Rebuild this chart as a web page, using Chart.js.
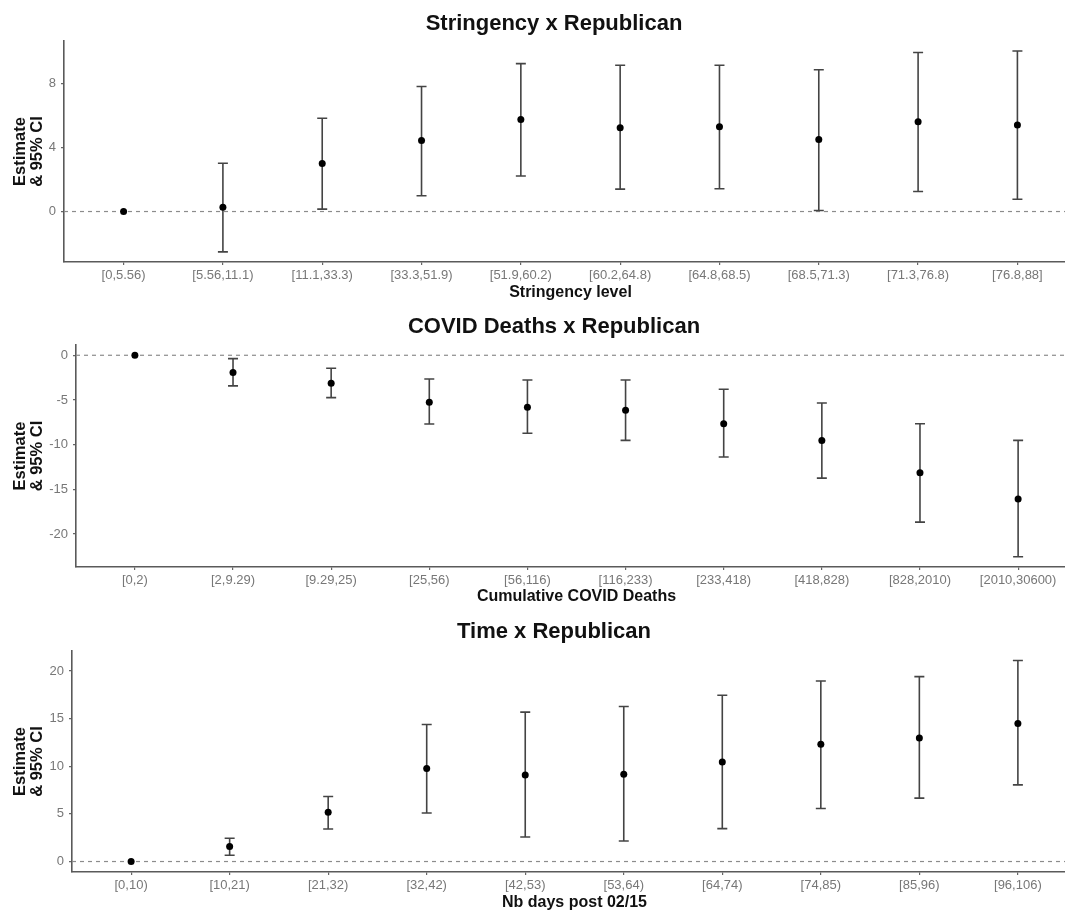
<!DOCTYPE html>
<html>
<head>
<meta charset="utf-8">
<title>Estimates x Republican</title>
<script src="https://cdn.jsdelivr.net/npm/chart.js@4.4.0/dist/chart.umd.min.js"></script>
<style>
  body { margin: 0; background: #fff; width: 1065px; height: 912px; overflow: hidden; position: relative; }
  .panel { position: absolute; left: 0; }
</style>
</head>
<body>
<canvas id="stringency" class="panel" width="1108" height="307" style="top:0px"></canvas>
<canvas id="deaths" class="panel" width="1108" height="303" style="top:307px"></canvas>
<canvas id="time" class="panel" width="1108" height="302" style="top:610px"></canvas>
<script>
// stringency panel
const stringencyLabels = ["[0,5.56)", "[5.56,11.1)", "[11.1,33.3)", "[33.3,51.9)", "[51.9,60.2)",
  "[60.2,64.8)", "[64.8,68.5)", "[68.5,71.3)", "[71.3,76.8)", "[76.8,88]"];
const stringencyEst = [0, 0.27, 2.99, 4.43, 5.74, 5.23, 5.29, 4.5, 5.6, 5.4];
const stringencyLow = [0, -2.52, 0.15, 0.98, 2.22, 1.4, 1.42, 0.06, 1.25, 0.77];
const stringencyHigh = [0, 3.01, 5.82, 7.8, 9.23, 9.13, 9.13, 8.85, 9.92, 10.02];
const stringencyTicks = [0, 4, 8];

// covid deaths panel
const deathsLabels = ["[0,2)", "[2,9.29)", "[9.29,25)", "[25,56)", "[56,116)",
  "[116,233)", "[233,418)", "[418,828)", "[828,2010)", "[2010,30600)"];
const deathsEst = [0, -1.94, -3.13, -5.26, -5.82, -6.16, -7.66, -9.53, -13.15, -16.1];
const deathsLow = [0, -3.43, -4.74, -7.69, -8.73, -9.53, -11.39, -13.75, -18.68, -22.56];
const deathsHigh = [0, -0.37, -1.46, -2.65, -2.76, -2.76, -3.81, -5.34, -7.66, -9.53];
const deathsTicks = [-20, -15, -10, -5, 0];

// time panel
const timeLabels = ["[0,10)", "[10,21)", "[21,32)", "[32,42)", "[42,53)",
  "[53,64)", "[64,74)", "[74,85)", "[85,96)", "[96,106)"];
const timeEst = [0, 1.57, 5.16, 9.76, 9.09, 9.16, 10.45, 12.3, 12.96, 14.49];
const timeLow = [0, 0.66, 3.41, 5.09, 2.58, 2.16, 3.45, 5.57, 6.66, 8.05];
const timeHigh = [0, 2.44, 6.83, 14.39, 15.68, 16.27, 17.46, 18.95, 19.41, 21.11];
const timeTicks = [0, 5, 10, 15, 20];

const FONT = "'Liberation Sans', Arial, sans-serif";

// dashed zero line + error bars, drawn under the points
function errorBars(low, high) {
  return {
    id: "errorBars",
    beforeDatasetsDraw(chart) {
      const { ctx, chartArea, scales: { x, y } } = chart;
      const y0 = y.getPixelForValue(0);
      ctx.save();
      ctx.strokeStyle = "#8c8c8c";
      ctx.lineWidth = 1.2;
      ctx.setLineDash([4, 4]);
      ctx.beginPath();
      ctx.moveTo(chartArea.left, y0);
      ctx.lineTo(chartArea.right, y0);
      ctx.stroke();
      ctx.setLineDash([]);
      ctx.strokeStyle = "#444";
      ctx.lineWidth = 1.6;
      low.forEach((lo, i) => {
        const hi = high[i];
        if (lo === hi) return;
        const px = x.getPixelForValue(i);
        const pLo = y.getPixelForValue(lo);
        const pHi = y.getPixelForValue(hi);
        ctx.beginPath();
        ctx.moveTo(px, pLo);
        ctx.lineTo(px, pHi);
        ctx.moveTo(px - 5, pLo);
        ctx.lineTo(px + 5, pLo);
        ctx.moveTo(px - 5, pHi);
        ctx.lineTo(px + 5, pHi);
        ctx.stroke();
      });
      ctx.restore();
    }
  };
}

function makePanel(id, cfg) {
  new Chart(document.getElementById(id), {
    type: "scatter",
    data: {
      datasets: [{
        data: cfg.est.map((v, i) => ({ x: i, y: v })),
        pointRadius: 3.5,
        pointBackgroundColor: "#000",
        pointBorderColor: "#000",
        pointBorderWidth: 0
      }]
    },
    options: {
      responsive: false,
      animation: false,
      events: [],
      layout: { padding: 0 },
      plugins: {
        legend: { display: false },
        tooltip: { enabled: false },
        title: {
          display: true,
          text: cfg.title,
          color: "#111",
          font: { family: FONT, size: 22, weight: "bold", lineHeight: 1.2 },
          padding: { top: cfg.titleTop, bottom: cfg.titleBottom }
        }
      },
      scales: {
        x: {
          type: "linear",
          min: -0.6,
          max: 9.6,
          afterBuildTicks: (s) => { s.ticks = cfg.labels.map((_, i) => ({ value: i })); },
          afterFit: (s) => { s.height = cfg.xHeight; },
          ticks: {
            callback: (v) => cfg.labels[v],
            color: "#777",
            font: { family: FONT, size: 13 },
            padding: 3,
            maxRotation: 0,
            autoSkip: false
          },
          grid: { display: true, drawOnChartArea: false, drawTicks: true, tickLength: 3, color: "#666", lineWidth: 1.2 },
          border: { display: true, color: "#5a5a5a", width: 1.6 },
          title: {
            display: true,
            text: cfg.xTitle,
            color: "#111",
            font: { family: FONT, size: 16, weight: "bold", lineHeight: 1.2 },
            padding: { top: 0, bottom: cfg.xTitlePad }
          }
        },
        y: {
          min: cfg.yMin,
          max: cfg.yMax,
          afterBuildTicks: (s) => { s.ticks = cfg.yTicks.map((v) => ({ value: v })); },
          afterFit: (s) => { s.width = cfg.left; },
          ticks: { color: "#777", font: { family: FONT, size: 13 }, padding: 5 },
          grid: { display: true, drawOnChartArea: false, drawTicks: true, tickLength: 3, color: "#666", lineWidth: 1.2 },
          border: { display: true, color: "#5a5a5a", width: 1.6 },
          title: {
            display: true,
            text: ["Estimate", "& 95% CI"],
            color: "#111",
            font: { family: FONT, size: 16.5, weight: "bold", lineHeight: 1.0 },
            padding: { top: 12.5, bottom: 0 }
          }
        },
        // empty strip on the right, so the panel ends past the cropped edge
        spacer: {
          position: "right",
          display: true,
          afterFit: (s) => { s.width = 31; },
          ticks: { display: false },
          grid: { display: false },
          border: { display: false }
        }
      }
    },
    plugins: [errorBars(cfg.low, cfg.high)]
  });
}

makePanel("stringency", {
  title: "Stringency x Republican", xTitle: "Stringency level",
  labels: stringencyLabels, est: stringencyEst, low: stringencyLow, high: stringencyHigh,
  yTicks: stringencyTicks, yMin: -3.15, yMax: 10.64,
  left: 64, xHeight: 45, titleTop: 10.8, titleBottom: 3.8, xTitlePad: 4.4
});

makePanel("deaths", {
  title: "COVID Deaths x Republican", xTitle: "Cumulative COVID Deaths",
  labels: deathsLabels, est: deathsEst, low: deathsLow, high: deathsHigh,
  yTicks: deathsTicks, yMin: -23.7, yMax: 1.15,
  left: 76, xHeight: 43, titleTop: 6.8, titleBottom: 4.8, xTitlePad: 3.4
});

makePanel("time", {
  title: "Time x Republican", xTitle: "Nb days post 02/15",
  labels: timeLabels, est: timeEst, low: timeLow, high: timeHigh,
  yTicks: timeTicks, yMin: -1.1, yMax: 22.1,
  left: 72, xHeight: 40, titleTop: 8.8, titleBottom: 5.8, xTitlePad: 0
});
</script>
</body>
</html>
